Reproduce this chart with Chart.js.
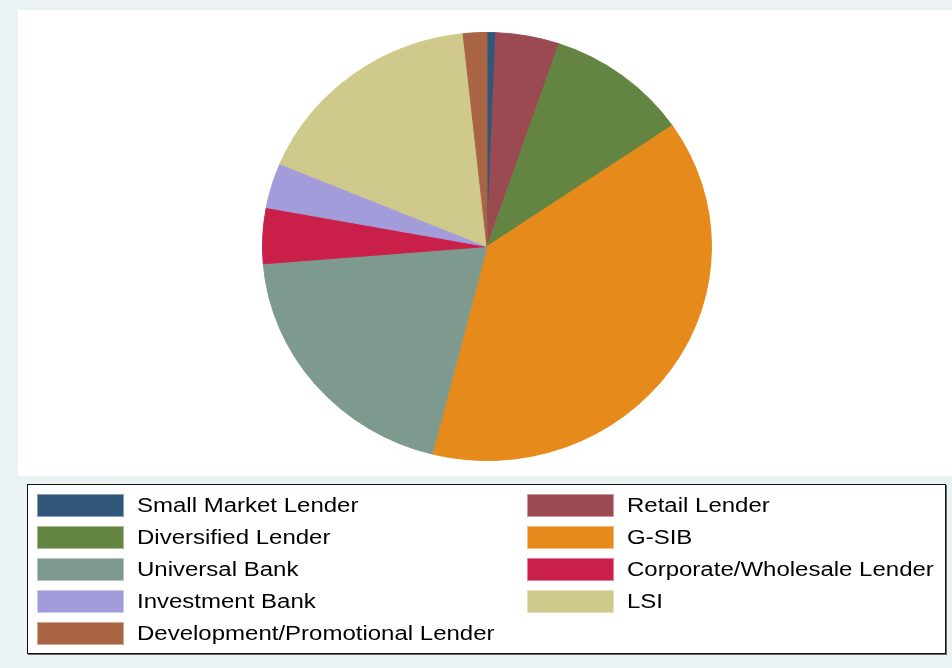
<!DOCTYPE html>
<html><head><meta charset="utf-8">
<script src="https://cdn.jsdelivr.net/npm/chart.js@4/dist/chart.umd.min.js"></script>
<style>
html,body{margin:0;padding:0;}
body{width:952px;height:668px;background:#EAF2F3;position:relative;overflow:hidden;font-family:"Liberation Sans",Arial,sans-serif;}
#plot{position:absolute;left:18px;top:10px;width:934px;height:466px;background:#fff;}
#c{position:absolute;left:0;top:0;width:952px;height:668px;}
#legend{position:absolute;left:27px;top:484px;width:917px;height:168px;background:#fff;border:1px solid #111;box-shadow:1px 1px 0 #666;}
.item{position:absolute;height:23px;}
.sw{position:absolute;left:0;top:0;width:87px;height:23px;box-sizing:border-box;border:1px solid rgba(255,255,255,0.45);}
.lbl{position:absolute;left:100px;top:0;font-size:20px;line-height:23px;white-space:nowrap;color:#000;transform:scaleX(1.2);transform-origin:0 50%;}
</style>
</head><body>
<div id="plot"></div>
<canvas id="c" width="952" height="668"></canvas>
<div id="legend"></div>
<script>
const categories = ["Small Market Lender","Retail Lender","Diversified Lender","G-SIB","Universal Bank","Corporate/Wholesale Lender","Investment Bank","LSI","Development/Promotional Lender"];
const shares = [0.62, 4.58, 10.25, 38.5, 19.8, 4.2, 3.4, 17.0, 1.7];
const colors = ["#30577A","#9A4A50","#648442","#E68A1B","#7E9A8F","#C91F49","#A29DDA","#CFC98B","#A86443"];

// build legend (two columns, row-major)
const leg = document.getElementById('legend');
categories.forEach((name, i) => {
  const col = i % 2, row = Math.floor(i / 2);
  const it = document.createElement('div');
  it.className = 'item';
  it.style.left = (col ? 499 : 9) + 'px';
  it.style.top = (9 + row * 32) + 'px';
  const sw = document.createElement('div');
  sw.className = 'sw';
  sw.style.background = colors[i];
  const lb = document.createElement('div');
  lb.className = 'lbl';
  lb.textContent = name;
  it.appendChild(sw); it.appendChild(lb);
  leg.appendChild(it);
});

const yScale = 214.5 / 225;
const squash = {
  id: 'squash',
  beforeDatasetsDraw(chart) {
    const ctx = chart.ctx, a = chart.chartArea;
    const cy = (a.top + a.bottom) / 2;
    ctx.save();
    ctx.translate(0, cy);
    ctx.scale(1, yScale);
    ctx.translate(0, -cy);
  },
  afterDatasetsDraw(chart) { chart.ctx.restore(); }
};

new Chart(document.getElementById('c'), {
  type: 'pie',
  data: {
    labels: categories,
    datasets: [{
      data: shares,
      backgroundColor: colors,
      borderColor: colors,
      borderWidth: 1
    }]
  },
  options: {
    responsive: false,
    animation: false,
    layout: { padding: { left: 262, right: 240, top: 21.5, bottom: 196.5 } },
    plugins: { legend: { display: false }, tooltip: { enabled: false } }
  },
  plugins: [squash]
});
</script>
</body></html>
